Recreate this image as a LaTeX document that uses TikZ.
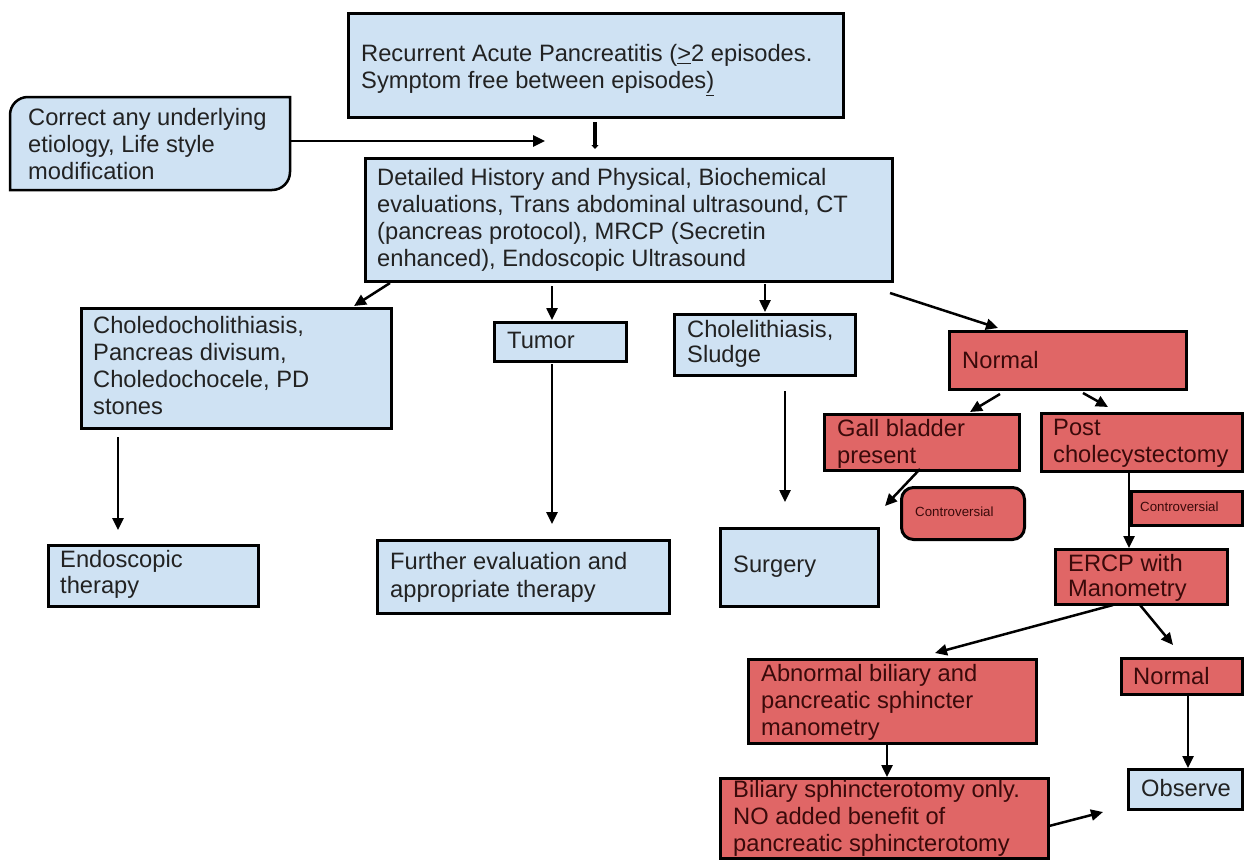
\documentclass[tikz,border=0pt]{standalone}
\usepackage{fontspec}
\setmainfont{Liberation Sans}
\usetikzlibrary{arrows.meta}
\definecolor{bfill}{HTML}{CFE2F3}
\definecolor{rfill}{HTML}{E06666}
\definecolor{btxt}{HTML}{222222}
\definecolor{rtxt}{HTML}{3A0A0A}
\tikzset{
  bx/.style={draw=black, line width=3pt, anchor=north west, inner sep=0pt},
  bluebox/.style={bx, fill=bfill},
  redbox/.style={bx, fill=rfill},
  txt/.style={inner sep=0pt, align=left, font=\fontsize{23.7}{27}\selectfont, text=btxt},
  rtx/.style={txt, text=rtxt},
  small/.style={inner sep=0pt, font=\fontsize{13.3}{15}\selectfont, text=rtxt},
  arr/.style={line width=2.5pt, -{Triangle[length=12pt,width=11pt]}},
}
\begin{document}
\begin{tikzpicture}[x=1pt,y=-1pt]
\useasboundingbox (0,0) rectangle (1244,859);

% ---------- blue boxes ----------
\node[bluebox, minimum width=495pt, minimum height=104pt] (top) at (347,12) {};
\node[txt, anchor=west] (top-t) at (361,70) {Recurrent Acute Pancreatitis (\underline{>}2 episodes.\\Symptom free between episodes\underline{)}};

\node[minimum width=280pt, minimum height=93pt, anchor=north west, inner sep=0pt] (left) at (10,97) {};
\draw[line width=2.5pt, fill=bfill] (10,190) -- (10,115) .. controls (10,105) and (18,97) .. (28,97) -- (290,97) -- (290,172) .. controls (290,182) and (282,190) .. (272,190) -- cycle;
\node[txt, anchor=west] (left-t) at (28,144.5) {Correct any underlying\\etiology, Life style\\modification};

\node[bluebox, minimum width=527pt, minimum height=123pt] (det) at (364,157) {};
\node[txt, anchor=west] (det-t) at (377,219.5) {Detailed History and Physical, Biochemical\\evaluations, Trans abdominal ultrasound, CT\\(pancreas protocol), MRCP (Secretin\\enhanced), Endoscopic Ultrasound};

\node[bluebox, minimum width=310pt, minimum height=120pt] (chole) at (80,307) {};
\node[txt, anchor=west] (chole-t) at (93,366) {Choledocholithiasis,\\Pancreas divisum,\\Choledochocele, PD\\stones};

\node[bluebox, minimum width=132pt, minimum height=39pt] (tumor) at (493,321) {};
\node[txt, anchor=west] (tumor-t) at (507,340.5) {Tumor};

\node[bluebox, minimum width=181pt, minimum height=61pt] (lith) at (673,313) {};
\node[txt, anchor=west, font=\fontsize{23.7}{25}\selectfont] (lith-t) at (687,344) {Cholelithiasis,\\Sludge};

\node[bluebox, minimum width=210pt, minimum height=61pt] (endo) at (47,544) {};
\node[txt, anchor=west, font=\fontsize{23.7}{26}\selectfont] (endo-t) at (60,574.5) {Endoscopic\\therapy};

\node[bluebox, minimum width=292pt, minimum height=73pt] (further) at (376,539) {};
\node[txt, anchor=west, font=\fontsize{23.7}{28}\selectfont] (further-t) at (390,577) {Further evaluation and\\appropriate therapy};

\node[bluebox, minimum width=158pt, minimum height=78pt] (surg) at (719,527) {};
\node[txt, anchor=west] (surg-t) at (733,567) {Surgery};

\node[bluebox, minimum width=114pt, minimum height=40pt] (obs) at (1127,768) {};
\node[txt, anchor=west] (obs-t) at (1141,788) {Observe};

% ---------- red boxes ----------
\node[redbox, minimum width=237pt, minimum height=58pt] (norm1) at (948,330) {};
\node[rtx, anchor=west] (norm1-t) at (962,360) {Normal};

\node[redbox, minimum width=195pt, minimum height=56pt] (gall) at (823,413) {};
\node[rtx, anchor=west] (gall-t) at (837,443.5) {Gall bladder\\present};

\node[redbox, minimum width=201pt, minimum height=58pt] (post) at (1040,412) {};
\node[rtx, anchor=west] (post-t) at (1053,443.5) {Post\\cholecystectomy};

\node[bx, fill=rfill, rounded corners=12pt, minimum width=123pt, minimum height=52pt] (ctrl1) at (900,486) {};
\node[small, anchor=west] (ctrl1-t) at (915,512) {Controversial};

\node[redbox, minimum width=111pt, minimum height=34pt] (ctrl2) at (1130,490) {};
\node[small, anchor=west] (ctrl2-t) at (1140,507) {Controversial};

\node[redbox, minimum width=172pt, minimum height=55pt] (ercp) at (1054,548) {};
\node[rtx, anchor=west, font=\fontsize{23.7}{25}\selectfont] (ercp-t) at (1068,578) {ERCP with\\Manometry};

\node[redbox, minimum width=121pt, minimum height=36pt] (norm2) at (1120,657) {};
\node[rtx, anchor=west] (norm2-t) at (1133,676) {Normal};

\node[redbox, minimum width=288pt, minimum height=84pt] (abn) at (747,658) {};
\node[rtx, anchor=north west] (abn-t) at (761,664) {Abnormal biliary and\\pancreatic sphincter\\manometry};

\node[redbox, minimum width=328pt, minimum height=80pt] (bil) at (719,777) {};
\node[rtx, anchor=north west] (bil-t) at (733,780.5) {Biliary sphincterotomy only.\\NO added benefit of\\pancreatic sphincterotomy};

% ---------- connector end points ----------
\coordinate (leftEnd) at (545,141);
\coordinate (topS) at (595,122);
\coordinate (topE) at (595,149);
\coordinate (c1s) at (390,283);
\coordinate (c1e) at (354,306);
\coordinate (c2s) at (552,286);
\coordinate (c2e) at (552,320);
\coordinate (c3s) at (765,284);
\coordinate (c3e) at (765,312);
\coordinate (c4s) at (890,293);
\coordinate (c4e) at (998,328);
\coordinate (c5s) at (1000,394);
\coordinate (c5e) at (970,412);
\coordinate (c6s) at (1083,393);
\coordinate (c6e) at (1108,407);
\coordinate (c7s) at (920,469);
\coordinate (c7e) at (885,506);
\coordinate (c8x) at (1129,470);
\coordinate (c9s) at (118,437);
\coordinate (c9e) at (118,530);
\coordinate (c10s) at (552,364);
\coordinate (c10e) at (552,524);
\coordinate (c11s) at (785,391);
\coordinate (c11e) at (785,502);
\coordinate (c12s) at (1113,605);
\coordinate (c12e) at (935,653);
\coordinate (c13s) at (1140,605);
\coordinate (c13e) at (1173,645);
\coordinate (c14x) at (887,742);
\coordinate (c15x) at (1188,693);
\coordinate (c16s) at (1049,826);
\coordinate (c16e) at (1103,812);

% ---------- connectors ----------
\draw[arr] (left.east |- leftEnd) -- (leftEnd);
\draw[line width=3.5pt, -{Triangle[length=4pt,width=7pt]}] (topS) -- (topE);
\draw[arr] (c1s) -- (c1e);
\draw[arr] (c2s) -- (c2e);
\draw[arr] (c3s) -- (c3e);
\draw[arr] (c4s) -- (c4e);
\draw[arr] (c5s) -- (c5e);
\draw[arr] (c6s) -- (c6e);
\draw[arr] (c7s) -- (c7e);
\draw[arr] (c8x |- post.south) -- (c8x |- ercp.north);
\draw[arr] (c9s) -- (c9e);
\draw[arr] (c10s) -- (c10e);
\draw[arr] (c11s) -- (c11e);
\draw[arr] (c12s) -- (c12e);
\draw[arr] (c13s) -- (c13e);
\draw[arr] (c14x |- abn.south) -- (c14x |- bil.north);
\draw[arr] (c15x |- norm2.south) -- (c15x |- obs.north);
\draw[arr] (c16s) -- (c16e);
\end{tikzpicture}
\end{document}
